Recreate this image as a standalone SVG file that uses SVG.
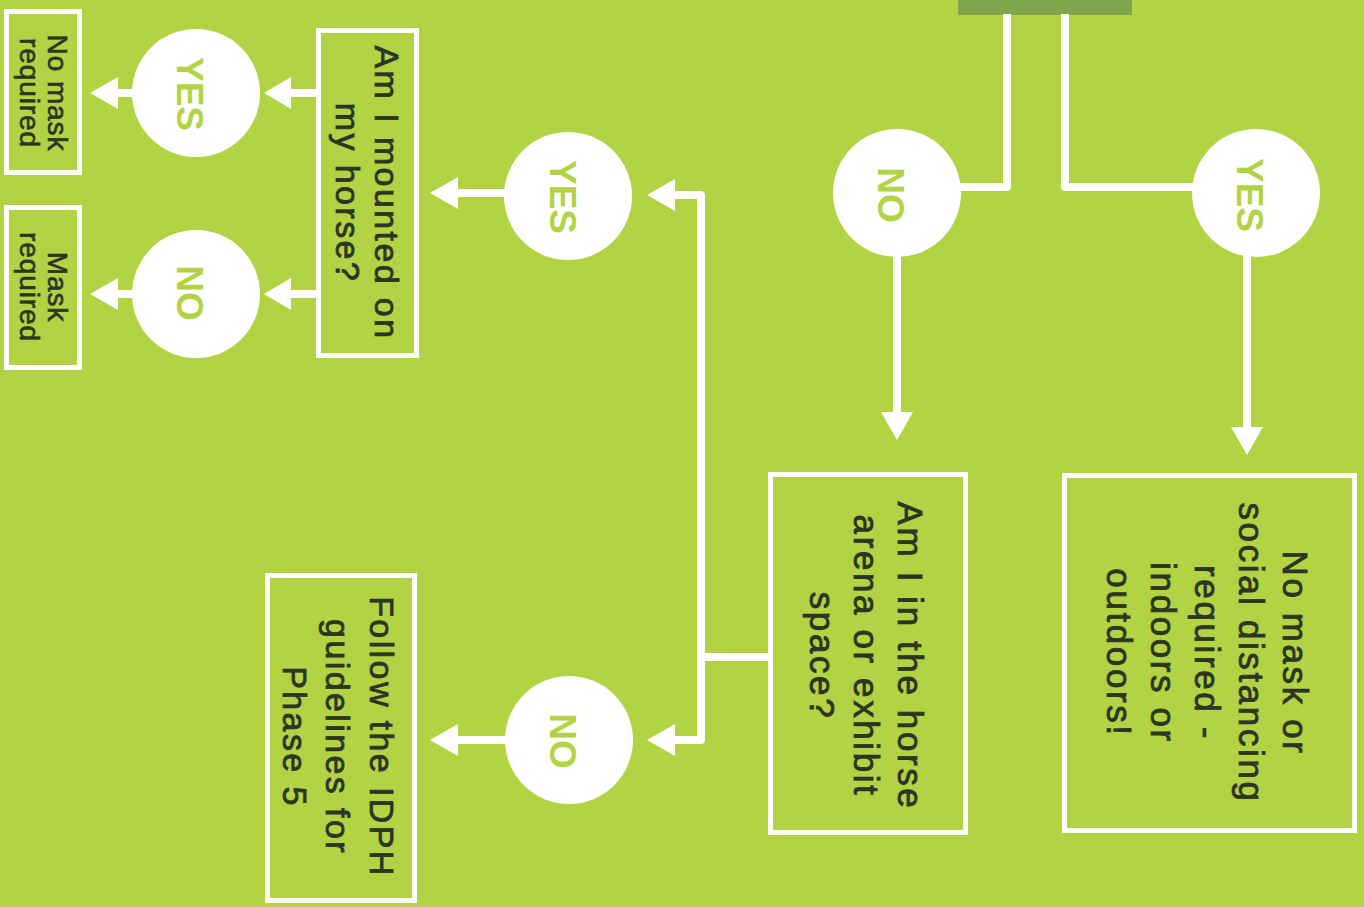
<svg xmlns="http://www.w3.org/2000/svg" width="1364" height="907" viewBox="0 0 1364 907">
  <defs>
    <style>
      .bg { fill: #b2d343; }
      .box { fill: none; stroke: #ffffff; stroke-width: 5; }
      .circ { fill: #ffffff; }
      .line { fill: none; stroke: #ffffff; stroke-width: 8; stroke-linejoin: round; }
      .head { fill: #ffffff; }
      .t { font-family: "Liberation Sans", Arial, sans-serif; font-size: 35px; fill: #2b3522; stroke: #2b3522; stroke-width: 0.8px; text-anchor: middle; letter-spacing: 2.6px; }
      .tm { font-family: "Liberation Sans", Arial, sans-serif; font-size: 34px; fill: #2b3522; stroke: #2b3522; stroke-width: 0.8px; text-anchor: middle; letter-spacing: 2.4px; }
      .ts { font-family: "Liberation Sans", Arial, sans-serif; font-size: 28px; fill: #2b3522; stroke: #2b3522; stroke-width: 0.6px; text-anchor: middle; letter-spacing: 0.9px; }
      .c { font-family: "Liberation Sans", Arial, sans-serif; font-size: 37px; font-weight: bold; fill: #b2d343; text-anchor: middle; }
    </style>
  </defs>

  <rect class="bg" x="0" y="0" width="1364" height="907"/>

  <g id="top-bar">
    <rect x="958" y="0" width="174" height="15" fill="#7fa64a"/>
  </g>

  <g id="connectors">
    <path class="line" d="M1007,14 V187 H955"/>
    <path class="line" d="M1065,14 V187 H1196"/>
    <path class="line" d="M897,255 V414"/>
    <polygon class="head" points="881,412 913,412 897,440"/>
    <path class="line" d="M1247,255 V429"/>
    <polygon class="head" points="1231,427 1263,427 1247,455"/>
    <path class="line" d="M770,657 H701"/>
    <path class="line" d="M674,195 H701 V740 H674"/>
    <polygon class="head" points="675,179 675,211 647,195"/>
    <polygon class="head" points="675,724 675,756 647,740"/>
    <path class="line" d="M507,193 H456"/>
    <polygon class="head" points="458,177 458,209 430,193"/>
    <path class="line" d="M507,740 H456"/>
    <polygon class="head" points="458,724 458,756 430,740"/>
    <path class="line" d="M317,93 H288"/>
    <polygon class="head" points="291,77 291,109 264,93"/>
    <path class="line" d="M317,294 H288"/>
    <polygon class="head" points="291,278 291,310 264,294"/>
    <path class="line" d="M134,93 H116"/>
    <polygon class="head" points="118,77 118,109 90,93"/>
    <path class="line" d="M134,294 H116"/>
    <polygon class="head" points="118,278 118,310 90,294"/>
  </g>

  <g id="no-top">
    <circle class="circ" cx="897" cy="193" r="64"/>
    <text class="c" transform="translate(878,195) rotate(90)">NO</text>
  </g>

  <g id="yes-top">
    <circle class="circ" cx="1256" cy="193" r="64"/>
    <text class="c" transform="translate(1237,195) rotate(90)">YES</text>
  </g>

  <g id="no-mask-social">
    <rect class="box" x="1064.5" y="475.5" width="290" height="355"/>
    <text class="t" transform="translate(1283,653) rotate(90)">No mask or</text>
    <text class="t" transform="translate(1239,653) rotate(90)">social distancing</text>
    <text class="t" transform="translate(1195,653) rotate(90)">required -</text>
    <text class="t" transform="translate(1151,653) rotate(90)">indoors or</text>
    <text class="t" transform="translate(1107,653) rotate(90)">outdoors!</text>
  </g>

  <g id="arena">
    <rect class="box" x="770.5" y="474.5" width="195" height="358"/>
    <text class="t" transform="translate(898,656) rotate(90)">Am I in the horse</text>
    <text class="t" transform="translate(854,656) rotate(90)">arena or exhibit</text>
    <text class="t" transform="translate(810,656) rotate(90)">space?</text>
  </g>

  <g id="yes-mid">
    <circle class="circ" cx="568" cy="196" r="64"/>
    <text class="c" transform="translate(550,197) rotate(90)">YES</text>
  </g>

  <g id="no-mid">
    <circle class="circ" cx="569" cy="740" r="64"/>
    <text class="c" transform="translate(550,741) rotate(90)">NO</text>
  </g>

  <g id="mounted">
    <rect class="box" x="318.5" y="30.5" width="98" height="325"/>
    <text class="tm" transform="translate(375,193) rotate(90)">Am I mounted on</text>
    <text class="tm" transform="translate(336,193) rotate(90)">my horse?</text>
  </g>

  <g id="follow-idph">
    <rect class="box" x="267.5" y="575.5" width="147" height="325"/>
    <text class="tm" transform="translate(370,737) rotate(90)">Follow the IDPH</text>
    <text class="tm" transform="translate(326,737) rotate(90)">guidelines for</text>
    <text class="tm" transform="translate(283,737) rotate(90)">Phase 5</text>
  </g>

  <g id="yes-small">
    <circle class="circ" cx="196" cy="93" r="64"/>
    <text class="c" transform="translate(177,94) rotate(90)">YES</text>
  </g>

  <g id="no-small">
    <circle class="circ" cx="196" cy="294" r="64"/>
    <text class="c" transform="translate(177,293) rotate(90)">NO</text>
  </g>

  <g id="no-mask-required">
    <rect class="box" x="6.5" y="11.5" width="73" height="161"/>
    <text class="ts" transform="translate(48,93) rotate(90)">No mask</text>
    <text class="ts" transform="translate(20,93) rotate(90)">required</text>
  </g>

  <g id="mask-required">
    <rect class="box" x="6.5" y="207.5" width="73" height="160"/>
    <text class="ts" transform="translate(48,287) rotate(90)">Mask</text>
    <text class="ts" transform="translate(20,287) rotate(90)">required</text>
  </g>
</svg>
